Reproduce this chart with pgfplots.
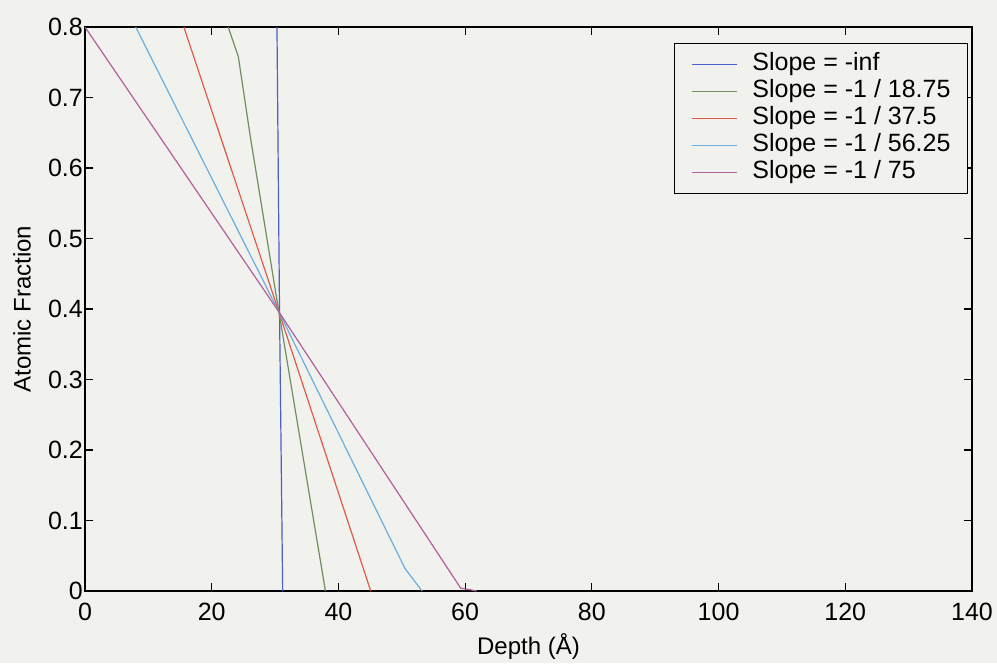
\documentclass[border=0pt]{standalone}
\usepackage{pgfplots}
\pgfplotsset{compat=1.18}
\usepackage{fontspec}
\setmainfont{Liberation Sans}

\definecolor{bgcol}{RGB}{241,241,238}
\definecolor{cblue}{RGB}{74,95,200}
\definecolor{cgreen}{RGB}{111,143,95}
\definecolor{cred}{RGB}{224,90,72}
\definecolor{ccyan}{RGB}{106,174,224}
\definecolor{cpurple}{RGB}{176,96,154}

\begin{document}
\begin{tikzpicture}
  % scanned page background
  \fill[bgcol] (-85pt,-72pt) rectangle (912pt,591pt);
  \begin{axis}[
      scale only axis,
      width=887pt, height=564pt,
      xmin=0, xmax=140, ymin=0, ymax=0.8,
      xtick={0,20,40,60,80,100,120,140},
      ytick={0,0.1,0.2,0.3,0.4,0.5,0.6,0.7,0.8},
      yticklabels={0,0.1,0.2,0.3,0.4,0.5,0.6,0.7,0.8},
      tick align=inside,
      major tick length=8pt,
      tick style={black, line width=1.1pt},
      axis line style={black, line width=1.3pt},
      ticklabel style={font=\fontsize{25}{25}\selectfont},
      /pgf/number format/assume math mode=true,
      xticklabel style={anchor=north, inner sep=0pt, yshift=-12pt},
      yticklabel style={anchor=east, inner sep=0pt, xshift=-2pt},
      xlabel={Depth (Å)},
      ylabel={Atomic Fraction},
      every axis x label/.style={at={(axis description cs:0.5,0)}, anchor=center,
        yshift=-56pt, font=\fontsize{24}{24}\selectfont},
      every axis y label/.style={at={(axis description cs:0,0.5)}, rotate=90, anchor=center,
        yshift=63pt, font=\fontsize{24}{24}\selectfont},
      legend style={
        at={(rel axis cs:0.9955,0.972)}, anchor=north east,
        draw=black, line width=1pt, fill=bgcol,
        font=\fontsize{25}{27}\selectfont,
        inner xsep=17pt, inner ysep=9pt,
        row sep=3pt, column sep=15pt,
        nodes={inner sep=0pt, text height=18pt, text depth=6pt},
      },
      legend cell align=left,
      legend image code/.code={\draw[#1, line width=1.2pt] (0pt,0pt) -- (45pt,0pt);},
      every axis plot/.append style={line width=1.2pt},
    ]
    \addplot[cblue] coordinates {(30.3,0.8) (30.7,0.4) (31.2,0)};
    \addlegendentry{Slope = -inf}
    \addplot[cgreen] coordinates {(22.6,0.8) (24.2,0.758) (26.1,0.644) (30.6,0.396) (37.95,0)};
    \addlegendentry{Slope = -1 / 18.75}
    \addplot[cred] coordinates {(15.6,0.8) (30.6,0.396) (45.1,0)};
    \addlegendentry{Slope = -1 / 37.5}
    \addplot[ccyan] coordinates {(8.0,0.8) (30.6,0.396) (50.5,0.032) (53.2,0)};
    \addlegendentry{Slope = -1 / 56.25}
    \addplot[cpurple] coordinates {(0,0.8) (30.6,0.396) (59.3,0.004) (61.0,0.0015) (61.8,0)};
    \addlegendentry{Slope = -1 / 75}
  \end{axis}
\end{tikzpicture}
\end{document}
